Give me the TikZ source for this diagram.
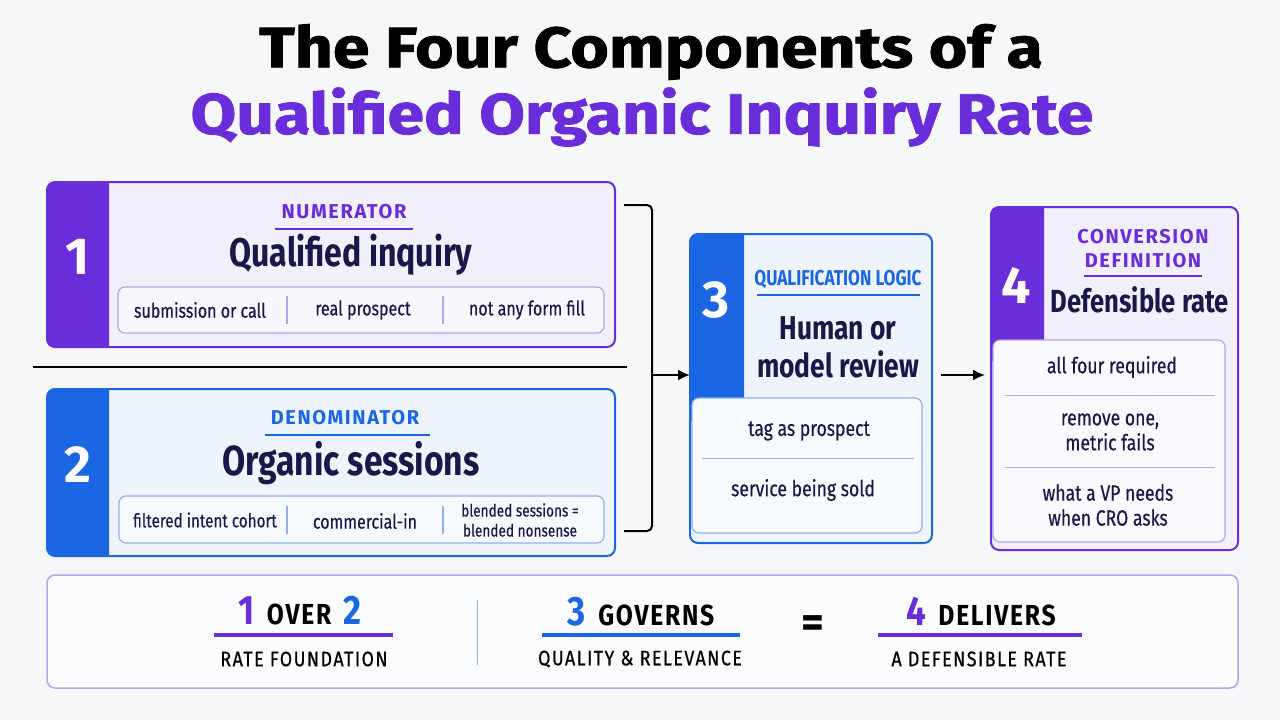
\documentclass[tikz,border=0pt]{standalone}
\usepackage{fontspec}
\usepackage{xcolor}
\setmainfont{Fira Sans}
\newfontfamily\condfont[FakeStretch=0.8]{Fira Sans}
\newfontfamily\itemfont[FakeStretch=0.8, FakeBold=0.4]{Fira Sans}
\newfontfamily\capsfont[LetterSpace=8]{Fira Sans}
\newfontfamily\sumfont[FakeStretch=0.85, LetterSpace=6]{Fira Sans}
\newfontfamily\notefont[FakeStretch=0.85, LetterSpace=7, FakeBold=0.6]{Fira Sans}
\newfontfamily\titlefont[FakeStretch=1.16, FakeBold=1.5]{Fira Sans}
\usetikzlibrary{arrows.meta,positioning,calc}

\definecolor{qpurple}{HTML}{6A2DDA}
\definecolor{qblue}{HTML}{1B67E3}
\definecolor{qnavy}{HTML}{1A1848}
\definecolor{qlav}{HTML}{F2EFFC}
\definecolor{qlavline}{HTML}{B7A3EE}
\definecolor{qsky}{HTML}{EEF4FD}
\definecolor{qskyline}{HTML}{8FB3F0}
\definecolor{qbg}{HTML}{F6F7F9}

\begin{document}
\begin{tikzpicture}[x=1pt, y=-1pt,
  card/.style={rectangle, rounded corners=8, outer sep=0, inner sep=0},
  strip/.style={rectangle, rounded corners=7, line width=1.2, outer sep=0, inner sep=0},
  numtxt/.style={text=white, font=\fontsize{52}{56}\selectfont\bfseries},
  tag/.style={font=\capsfont\fontsize{20}{24}\selectfont\bfseries, align=center},
  head/.style={text=qnavy, font=\condfont\fontsize{40}{42}\selectfont\bfseries, align=center},
  item/.style={text=qnavy, font=\itemfont\fontsize{20}{23}\selectfont, align=center},
  note/.style={font=\notefont\fontsize{21}{23}\selectfont},
  arr/.style={-{Latex[length=12pt,width=11pt]}, line width=2}
]

% canvas
\fill[qbg] (0,0) rectangle (1280,720);
\useasboundingbox (0,0) rectangle (1280,720);

% Title
\node[font=\titlefont\fontsize{57}{60}\selectfont\bfseries] (title1) at (651,52) {The Four Components of a};
\node[font=\titlefont\fontsize{57}{60}\selectfont\bfseries, text=qpurple] (title2) at (642,117) {Qualified Organic Inquiry Rate};

% 1 Numerator
\node[card, fill=qlav, minimum width=568, minimum height=165] (num) at (331,264.5) {};
\begin{scope}
  \clip (47,182) rectangle (109,347);
  \fill[qpurple, rounded corners=8] (47,182) rectangle (140,347);
\end{scope}
\draw[qpurple, line width=2, rounded corners=8] (num.north west) rectangle (num.south east);
\node[numtxt] (n1) at (78,257) {1};
\node[tag, text=qpurple] (numlab) at (344,212) {NUMERATOR};
\draw[qpurple, line width=1.2] (275,229) -- (413,229);
\node[head] (numhead) at (351,255) {Qualified inquiry};
\node[strip, draw=qlavline, fill=qlav!50!white, minimum width=486, minimum height=46] (numstrip) at (361,310) {};
\node[item] (numa) at (200,310) {submission or call};
\node[item] (numb) at (363,310) {real prospect};
\node[item] (numc) at (527,310) {not any form fill};
\draw[qlavline, line width=1.2] (287,296) -- (287,324);
\draw[qlavline, line width=1.2] (443,296) -- (443,324);

% divider between the two inputs
\draw[line width=2] (33,367) -- (627,367);

% 2 Denominator
\node[card, fill=qsky, minimum width=568, minimum height=167] (den) at (331,472.5) {};
\begin{scope}
  \clip (47,389) rectangle (109,556);
  \fill[qblue, rounded corners=8] (47,389) rectangle (140,556);
\end{scope}
\draw[qblue, line width=2, rounded corners=8] (den.north west) rectangle (den.south east);
\node[numtxt] (n2) at (78,465) {2};
\node[tag, text=qblue] (denlab) at (345,418) {DENOMINATOR};
\draw[qblue, line width=1.2] (265,435) -- (430,435);
\node[head, font=\condfont\fontsize{42}{44}\selectfont\bfseries] (denhead) at (351,463) {Organic sessions};
\node[strip, draw=qskyline, fill=qsky!50!white, minimum width=485, minimum height=47] (denstrip) at (361.5,519.5) {};
\node[item, font=\itemfont\fontsize{19}{22}\selectfont] (dena) at (205,520) {filtered intent cohort};
\node[item] (denb) at (365,521) {commercial-in};
\node[item, font=\itemfont\fontsize{17}{20}\selectfont] (denc) at (520,520) {blended sessions =\\blended nonsense};
\draw[qskyline, line width=1.2] (287,506) -- (287,534);
\draw[qskyline, line width=1.2] (443,506) -- (443,534);

% bracket joining 1 and 2
\draw[line width=2, rounded corners=5] (624,205) -- (652,205) -- (652,531) -- (624,531);
\coordinate (brace) at (652,375);

% 3 Qualification logic
\node[card, fill=qsky, minimum width=242, minimum height=309] (qual) at (811,388.5) {};
\begin{scope}
  \clip (690,234) rectangle (744,420);
  \fill[qblue, rounded corners=8] (690,234) rectangle (770,440);
\end{scope}
\node[numtxt] (n3) at (716,300) {3};
\node[text=qblue, font=\condfont\fontsize{21.5}{25}\selectfont\bfseries] (quallab) at (838,279) {QUALIFICATION LOGIC};
\draw[qblue, line width=1.2] (757,295) -- (920,295);
\node[head, font=\condfont\fontsize{33}{38}\selectfont\bfseries] (qualhead) at (838,347) {Human or\\model review};
\node[strip, draw=qskyline, fill=qsky!40!white, minimum width=230, minimum height=135] (qualstrip) at (807,465.5) {};
\node[item, font=\itemfont\fontsize{22}{25}\selectfont] (quala) at (809,431) {tag as prospect};
\draw[qskyline, line width=1] (702,458) -- (914,458);
\node[item, font=\itemfont\fontsize{22}{25}\selectfont] (qualb) at (803,490) {service being sold};
\draw[qblue, line width=2, rounded corners=8] (qual.north west) rectangle (qual.south east);

% 4 Conversion definition
\node[card, fill=qlav, minimum width=247, minimum height=343] (conv) at (1114.5,378.5) {};
\begin{scope}
  \clip (991,207) rectangle (1044,360);
  \fill[qpurple, rounded corners=8] (991,207) rectangle (1070,380);
\end{scope}
\node[numtxt] (n4) at (1016,285) {4};
\node[tag, text=qpurple, font=\capsfont\fontsize{20}{24}\selectfont\bfseries] (convlab) at (1143,249) {CONVERSION\\DEFINITION};
\draw[qpurple, line width=1.2] (1084,276) -- (1202,276);
\node[head, font=\condfont\fontsize{32}{36}\selectfont\bfseries] (convhead) at (1140,300) {Defensible rate};
\node[strip, draw=qlavline, fill=qlav!40!white, minimum width=232, minimum height=202] (convstrip) at (1109,441) {};
\node[item, font=\itemfont\fontsize{22}{25}\selectfont] (conva) at (1112,367) {all four required};
\draw[qlavline, line width=1] (1005,395) -- (1215,395);
\node[item, font=\itemfont\fontsize{22}{25}\selectfont] (convb) at (1110,432) {remove one,\\metric fails};
\draw[qlavline, line width=1] (1005,467) -- (1215,467);
\node[item, font=\itemfont\fontsize{22}{25}\selectfont] (convc) at (1108,505) {what a VP needs\\when CRO asks};
\draw[qpurple, line width=2, rounded corners=8] (conv.north west) rectangle (conv.south east);

% Arrows
\draw[arr] (brace) -- (brace -| qual.west);
\draw[arr, shorten <=9, shorten >=6] (brace -| qual.east) -- (brace -| conv.west);

% Summary strip
\node[card, draw=qlavline, line width=1.5, fill=white!60!qbg, minimum width=1191, minimum height=113] (sum) at (642.5,631.5) {};
\node[font=\sumfont\fontsize{29}{30}\selectfont\bfseries] (suma) at (300,611)
  {{\color{qpurple}\fontsize{41}{40}\selectfont 1}\, OVER\, {\color{qblue}\fontsize{41}{40}\selectfont 2}};
\draw[qpurple, line width=4] (214,635) -- (393,635);
\node[note] (sumal) at (304,659) {RATE FOUNDATION};
\draw[qskyline, line width=0.8] (477,600) -- (477,665);
\node[font=\sumfont\fontsize{29}{30}\selectfont\bfseries] (sumb) at (641,612)
  {{\color{qblue}\fontsize{41}{40}\selectfont 3}\, GOVERNS};
\draw[qblue, line width=4] (542,635) -- (740,635);
\node[note] (sumbl) at (640,659) {QUALITY \& RELEVANCE};
\node[font=\fontsize{44}{48}\selectfont\bfseries] (eq) at (813,627) {=};
\node[font=\sumfont\fontsize{29}{30}\selectfont\bfseries] (sumc) at (981,612)
  {{\color{qpurple}\fontsize{41}{40}\selectfont 4}\, DELIVERS};
\draw[qpurple, line width=4] (878,635) -- (1082,635);
\node[note] (sumcl) at (979,659) {A DEFENSIBLE RATE};

\end{tikzpicture}
\end{document}
